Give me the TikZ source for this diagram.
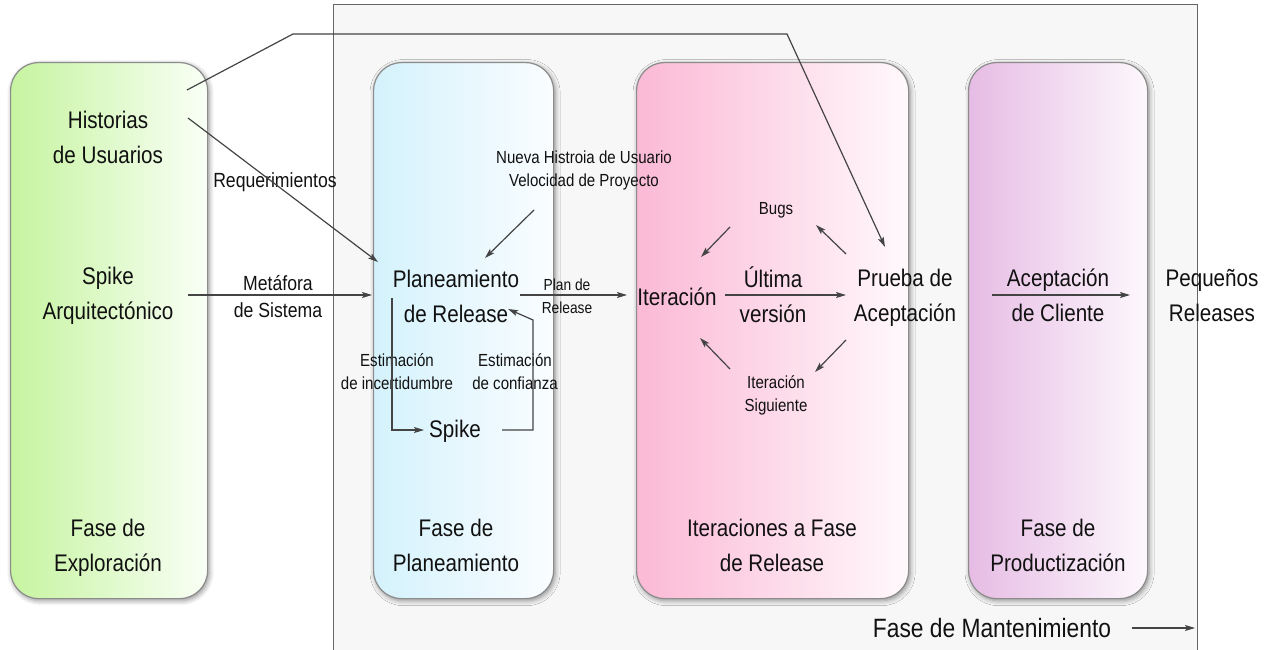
\documentclass[tikz,border=0pt]{standalone}
\usepackage{fontspec}
\setmainfont[FakeStretch=0.86]{Liberation Sans}
\usetikzlibrary{arrows.meta,shadows.blur}
\definecolor{txt}{HTML}{111111}
\definecolor{ln}{HTML}{444444}
\definecolor{bgfill}{HTML}{F7F7F7}
\definecolor{bgline}{HTML}{666666}
\definecolor{cgreen}{HTML}{C6F4A0}
\definecolor{cgreenR}{HTML}{F9FFF6}
\definecolor{cblue}{HTML}{D4F2FC}
\definecolor{cblueR}{HTML}{FAFDFF}
\definecolor{cpink}{HTML}{FBB9D5}
\definecolor{cpinkR}{HTML}{FFF9FC}
\definecolor{clila}{HTML}{E6BCE4}
\definecolor{clilaR}{HTML}{FDF8FD}
\tikzset{
  phase/.style={draw=black!45, line width=1.2pt, rounded corners=28pt,
    anchor=north west, minimum height=536pt,
    blur shadow={shadow blur steps=6, shadow xshift=1.5pt, shadow yshift=-2pt, shadow blur radius=5pt, shadow opacity=45}},
  big/.style={text=txt, align=center, anchor=base, inner sep=0pt, font=\fontsize{24}{35}\selectfont},
  mid/.style={text=txt, align=center, anchor=base, inner sep=0pt, font=\fontsize{20.5}{27}\selectfont},
  sml/.style={text=txt, align=center, anchor=base, inner sep=0pt, font=\fontsize{17.5}{23}\selectfont},
  arr/.style={draw=ln, line width=1.2pt, -{Stealth[length=10pt,width=6pt,inset=2pt]}},
  ln/.style={draw=ln, line width=1.2pt}
}
\begin{document}
\begin{tikzpicture}[x=1pt,y=-1pt]
\useasboundingbox (0,0) rectangle (1272,650);
% maintenance background
\draw[fill=bgfill, draw=bgline, line width=1pt] (333,5) rectangle (1197,660);
% phase boxes
\node[phase, left color=cgreen, right color=cgreenR, minimum width=197pt] (bexp) at (10,62) {};
\node[phase, left color=cblue, right color=cblueR, minimum width=180pt] (bplan) at (373,62) {};
\node[phase, left color=cpink, right color=cpinkR, minimum width=272pt] (biter) at (636,62) {};
\node[phase, left color=clila, right color=clilaR, minimum width=179pt] (bprod) at (968,62) {};
% texts (base = baseline of the last line)
\node[big] (hist) at (108,164) {Historias\\de Usuarios};
\node[big] (spikea) at (108,319) {Spike\\Arquitectónico};
\node[big] (fexp) at (108,571) {Fase de\\Exploración};
\node[mid] (req) at (275,187) {Requerimientos};
\node[mid] (meta) at (278,317) {Metáfora\\de Sistema};
\node[big] (plan) at (456,322) {Planeamiento\\de Release};
\node[sml] (nueva) at (584,186) {Nueva Histroia de Usuario\\Velocidad de Proyecto};
\node[sml, font=\fontsize{16}{23}\selectfont] (plande) at (567,313) {Plan de\\Release};
\node[big] (iter) at (677,305) {Iteración};
\node[big] (ultima) at (773,322) {Última\\versión};
\node[big] (prueba) at (905,321) {Prueba de\\Aceptación};
\node[sml] (bugs) at (776,214) {Bugs};
\node[sml] (itsig) at (776,411) {Iteración\\Siguiente};
\node[sml] (estinc) at (397,389) {Estimación\\de incertidumbre};
\node[sml] (estconf) at (515,389) {Estimación\\de confianza};
\node[big] (spike) at (455,437) {Spike};
\node[big] (fplan) at (456,571) {Fase de\\Planeamiento};
\node[big] (fiter) at (772,571) {Iteraciones a Fase\\de Release};
\node[big] (acep) at (1058,321) {Aceptación\\de Cliente};
\node[big] (peq) at (1212,321) {Pequeños\\Releases};
\node[big] (fprod) at (1058,571) {Fase de\\Productización};
\node[big, font=\fontsize{26.5}{35}\selectfont] (mant) at (992,637) {Fase de Mantenimiento};
% connectors
\draw[arr] ([shift={(80,-46)}]hist.base) -- ([shift={(-78,-60)}]plan.base);
\draw[arr] ([shift={(79,-74)}]hist.base) -- (293,34) -- (787,34) -- ([shift={(-20,-74)}]prueba.base);
\draw[arr] ([shift={(80,-24)}]spikea.base) -- ([shift={(-84,-27)}]plan.base);
\draw[arr] ([shift={(-50,24)}]nueva.base) -- ([shift={(29,-64)}]plan.base);
\draw[arr] ([shift={(64,-27)}]plan.base) -- ([shift={(-50,-10)}]iter.base);
\draw[arr] ([shift={(48,-10)}]iter.base) -- ([shift={(-59,-26)}]prueba.base);
\draw[arr] ([shift={(-46,13)}]bugs.base) -- ([shift={(-75,43)}]bugs.base);
\draw[arr] ([shift={(70,40)}]bugs.base) -- ([shift={(40,11)}]bugs.base);
\draw[arr] ([shift={(-46,-42)}]itsig.base) -- ([shift={(-76,-73)}]itsig.base);
\draw[arr] ([shift={(70,-71)}]itsig.base) -- ([shift={(39,-39)}]itsig.base);
\draw[arr] ([shift={(-64,-24)}]plan.base) |- ([shift={(-31,-7)}]spike.base);
\draw[arr] ([shift={(47,-7)}]spike.base) -- ([shift={(78,-7)}]spike.base) -- ([shift={(77,-2)}]plan.base) -- ([shift={(52,-13)}]plan.base);
\draw[arr] ([shift={(-66,-26)}]acep.base) -- ([shift={(72,-26)}]acep.base);
\draw[arr] ([shift={(140,-9)}]mant.base) -- ([shift={(203,-9)}]mant.base);
\end{tikzpicture}
\end{document}
